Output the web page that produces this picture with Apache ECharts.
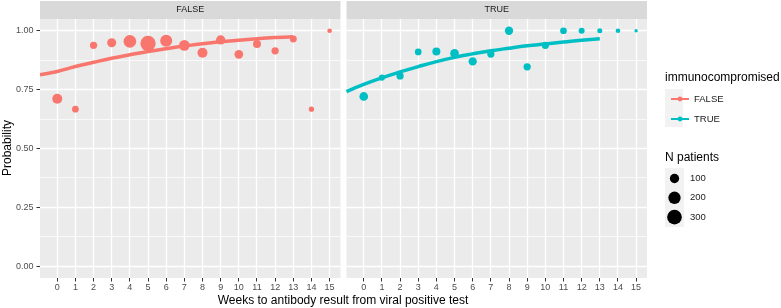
<!DOCTYPE html>
<html>
<head>
<meta charset="utf-8">
<script src="https://cdn.jsdelivr.net/npm/echarts@6/dist/echarts.min.js"></script>
<style>
  html, body { margin: 0; padding: 0; background: #fff; }
  #chart { width: 781px; height: 308px; }
</style>
</head>
<body>
<div id="chart"></div>
<script>
// weeks to antibody result, facets FALSE / TRUE (immunocompromised)
const weeks = [0, 1, 2, 3, 4, 5, 6, 7, 8, 9, 10, 11, 12, 13, 14, 15];
const probFalse = [0.711, 0.667, 0.938, 0.949, 0.955, 0.946, 0.958, 0.938, 0.907, 0.961, 0.900, 0.944, 0.915, 0.965, 0.667, 1.0];
const nFalse = [120, 42, 53, 92, 213, 328, 186, 141, 120, 100, 84, 68, 53, 47, 21, 14];
const probTrue = [0.721, 0.801, 0.808, 0.910, 0.912, 0.904, 0.870, 0.901, 1.0, 0.847, 0.938, 1.0, 1.0, 1.0, 1.0, 1.0];
const nTrue = [84, 31, 53, 42, 68, 84, 75, 53, 75, 53, 53, 42, 31, 18, 14, 4];

// fitted curves
const fitWeeks = [-0.95, 0, 1, 2, 3, 4, 5, 6, 7, 8, 9, 10, 11, 12, 13];
const fitFalse = [0.813, 0.827, 0.848, 0.866, 0.883, 0.898, 0.912, 0.924, 0.935, 0.945, 0.953, 0.960, 0.966, 0.971, 0.975];
const fitTrue = [0.742, 0.772, 0.800, 0.825, 0.848, 0.869, 0.887, 0.902, 0.915, 0.926, 0.936, 0.944, 0.952, 0.960, 0.966];

const yTicks = [0, 0.25, 0.5, 0.75, 1];
const yMinor = [0.125, 0.375, 0.625, 0.875];
const sizeBreaks = [100, 200, 300];

const RED = "#F8766D";
const CYAN = "#00BFC4";
const FONT = "Liberation Sans";

// panel layout (ggplot-like expanded ranges)
const X_MIN = -0.95, X_MAX = 15.6;
const Y_MIN = -0.05, Y_MAX = 1.05;
const panels = [
  { left: 40, top: 19, width: 300.5, height: 259 },
  { left: 346.5, top: 19, width: 300.5, height: 259 },
];

function dotSize(n) {
  return 1.9 + 0.74 * Math.sqrt(n);
}

// inner grid that spans exactly 0..15 x 0..1, used only for the tick labels
function tickGrid(p) {
  let kx = p.width / (X_MAX - X_MIN);
  let ky = p.height / (Y_MAX - Y_MIN);
  return {
    left: p.left + (0 - X_MIN) * kx,
    width: 15 * kx,
    top: p.top + (Y_MAX - 1) * ky,
    height: 1 * ky,
    offX: (0 - X_MIN) * kx,
    offY: (0 - Y_MIN) * ky,
  };
}
const tg = panels.map(tickGrid);

function panelX(gridIndex) {
  return { type: "value", gridIndex: gridIndex, min: X_MIN, max: X_MAX, show: false };
}
function panelY(gridIndex) {
  return { type: "value", gridIndex: gridIndex, min: Y_MIN, max: Y_MAX, show: false };
}
function tickX(gridIndex, t) {
  return {
    type: "value",
    gridIndex: gridIndex,
    min: 0,
    max: 15,
    interval: 1,
    offset: t.offY,
    axisLine: { show: false },
    axisTick: { show: false },
    axisLabel: { color: "#4D4D4D", fontSize: 9, fontFamily: FONT, margin: 5, showMinLabel: true, showMaxLabel: true },
    splitLine: { show: false },
  };
}
function tickY(gridIndex, t, showLabels) {
  return {
    type: "value",
    gridIndex: gridIndex,
    min: 0,
    max: 1,
    interval: 0.25,
    offset: t.offX,
    show: showLabels,
    axisLine: { show: false },
    axisTick: { show: false },
    axisLabel: {
      formatter: function (v) { return v.toFixed(2); },
      color: "#4D4D4D", fontSize: 9, fontFamily: FONT, margin: 6.5, showMinLabel: true, showMaxLabel: true,
    },
    splitLine: { show: false },
  };
}

let dom = document.getElementById("chart");
let myChart = echarts.init(dom, null, { renderer: "canvas" });

let staticGraphics = [
  // facet strips
  { type: "rect", left: panels[0].left, top: 1, shape: { width: panels[0].width, height: 18 }, style: { fill: "#D9D9D9" }, silent: true },
  { type: "rect", left: panels[1].left, top: 1, shape: { width: panels[1].width, height: 18 }, style: { fill: "#D9D9D9" }, silent: true },
  { type: "text", x: panels[0].left + panels[0].width / 2, y: 10, style: { text: "FALSE", fill: "#1A1A1A", font: "9px " + FONT, textAlign: "center", textVerticalAlign: "middle" } },
  { type: "text", x: panels[1].left + panels[1].width / 2, y: 10, style: { text: "TRUE", fill: "#1A1A1A", font: "9px " + FONT, textAlign: "center", textVerticalAlign: "middle" } },
  // axis titles
  { type: "text", x: 343, y: 300.5, style: { text: "Weeks to antibody result from viral positive test", fill: "#000", font: "12px " + FONT, textAlign: "center", textVerticalAlign: "middle" } },
  { type: "text", x: 8, y: 148, rotation: Math.PI / 2, style: { text: "Probability", fill: "#000", font: "12px " + FONT, textAlign: "center", textVerticalAlign: "middle" } },
  // legend: colour
  { type: "text", x: 665, y: 78, style: { text: "immunocompromised", fill: "#000", font: "12px " + FONT, textVerticalAlign: "middle" } },
  { type: "rect", left: 665, top: 89, z: -1, shape: { width: 18, height: 38 }, style: { fill: "#F2F2F2" }, silent: true },
  // legend: size
  { type: "text", x: 665, y: 158, style: { text: "N patients", fill: "#000", font: "12px " + FONT, textVerticalAlign: "middle" } },
  { type: "rect", left: 665, top: 168, shape: { width: 19, height: 59 }, style: { fill: "#F2F2F2" }, silent: true },
].concat(
  sizeBreaks.map(function (n, i) {
    return { type: "circle", shape: { cx: 674.5, cy: 178.5 + i * 19.3, r: dotSize(n) / 2 }, style: { fill: "#000" }, z: 10 };
  }),
  sizeBreaks.map(function (n, i) {
    return { type: "text", x: 690, y: 178.5 + i * 19.3, style: { text: String(n), fill: "#1A1A1A", font: "9.5px " + FONT, textVerticalAlign: "middle" }, z: 10 };
  })
);

let option = {
  animation: false,
  backgroundColor: "#fff",
  textStyle: { fontFamily: FONT },
  grid: [
    // panel backgrounds come from the grid itself
    { left: panels[0].left, top: panels[0].top, width: panels[0].width, height: panels[0].height, show: true, backgroundColor: "#EBEBEB", borderWidth: 0, z: 0 },
    { left: panels[1].left, top: panels[1].top, width: panels[1].width, height: panels[1].height, show: true, backgroundColor: "#EBEBEB", borderWidth: 0, z: 0 },
    { left: tg[0].left, top: tg[0].top, width: tg[0].width, height: tg[0].height, show: false },
    { left: tg[1].left, top: tg[1].top, width: tg[1].width, height: tg[1].height, show: false },
  ],
  xAxis: [panelX(0), panelX(1), tickX(2, tg[0]), tickX(3, tg[1])],
  yAxis: [panelY(0), panelY(1), tickY(2, tg[0], true), tickY(3, tg[1], false)],
  legend: {
    data: ["FALSE", "TRUE"],
    orient: "vertical",
    left: 665,
    top: 89,
    itemWidth: 18,
    itemHeight: 6,
    itemGap: 10,
    selectedMode: false,
    textStyle: { fontSize: 9.5, color: "#1A1A1A", fontFamily: FONT },
  },
  series: [
    {
      name: "FALSE",
      type: "line",
      xAxisIndex: 0,
      yAxisIndex: 0,
      data: fitWeeks.map(function (w, i) { return [w, fitFalse[i]]; }),
      smooth: true,
      showSymbol: false,
      symbol: "circle",
      symbolSize: 5,
      itemStyle: { color: RED },
      lineStyle: { color: RED, width: 3.5 },
      z: 4,
    },
    {
      name: "TRUE",
      type: "line",
      xAxisIndex: 1,
      yAxisIndex: 1,
      data: fitWeeks.map(function (w, i) { return [w, fitTrue[i]]; }),
      smooth: true,
      showSymbol: false,
      symbol: "circle",
      symbolSize: 5,
      itemStyle: { color: CYAN },
      lineStyle: { color: CYAN, width: 3.5 },
      z: 4,
    },
    {
      name: "FALSE",
      type: "scatter",
      xAxisIndex: 0,
      yAxisIndex: 0,
      data: weeks.map(function (w, i) { return [w, probFalse[i], nFalse[i]]; }),
      symbolSize: function (val) { return dotSize(val[2]); },
      itemStyle: { color: RED, opacity: 1 },
      z: 6,
    },
    {
      name: "TRUE",
      type: "scatter",
      xAxisIndex: 1,
      yAxisIndex: 1,
      data: weeks.map(function (w, i) { return [w, probTrue[i], nTrue[i]]; }),
      symbolSize: function (val) { return dotSize(val[2]); },
      itemStyle: { color: CYAN, opacity: 1 },
      z: 6,
    },
  ],
  graphic: staticGraphics,
};

myChart.setOption(option);

// grid lines and tick marks, positioned through each panel's own axes
function crisp(v) {
  return Math.round(v - 0.5) + 0.5;
}
function guideLine(x1, y1, x2, y2, color, w, z) {
  return { type: "line", z: z, silent: true, shape: { x1: x1, y1: y1, x2: x2, y2: y2 }, style: { stroke: color, lineWidth: w, opacity: 1 } };
}
let gridGuides = [];
let tickGuides = [];
panels.forEach(function (p, gi) {
  let x0 = p.left, x1 = p.left + p.width;
  let y0 = p.top, y1 = p.top + p.height;
  yMinor.forEach(function (v) {
    let py = crisp(myChart.convertToPixel({ gridIndex: gi }, [0, v])[1]);
    gridGuides.push(guideLine(x0, py, x1, py, "#FFFFFF", 0.7, 2));
  });
  yTicks.forEach(function (v) {
    let py = crisp(myChart.convertToPixel({ gridIndex: gi }, [0, v])[1]);
    gridGuides.push(guideLine(x0, py, x1, py, "#FFFFFF", 1.3, 2));
    if (gi === 0) tickGuides.push(guideLine(x0 - 3.5, py, x0, py, "#333333", 1, 2));
  });
  weeks.forEach(function (v) {
    let px = crisp(myChart.convertToPixel({ gridIndex: gi }, [v, 0])[0]);
    gridGuides.push(guideLine(px, y0, px, y1, "#FFFFFF", 1.3, 2));
    tickGuides.push(guideLine(px, y1, px, y1 + 3.5, "#333333", 1, 2));
  });
});

myChart.setOption({ graphic: gridGuides.concat(staticGraphics, tickGuides) }, { replaceMerge: ["graphic"] });
</script>
</body>
</html>
